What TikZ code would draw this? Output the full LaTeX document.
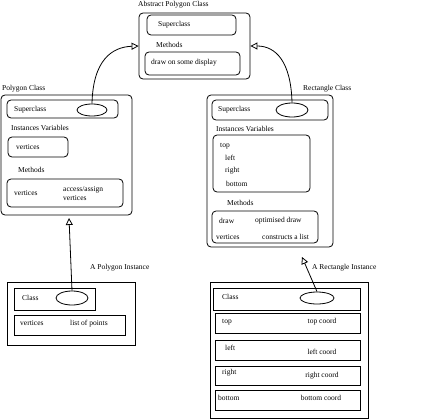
\documentclass[tikz,border=0pt]{standalone}
\usepackage{fontspec}
\setmainfont{Liberation Serif}
\usetikzlibrary{shapes.geometric,arrows.meta}

\begin{document}
\begin{tikzpicture}
    [x=1pt,y=-1pt,
    every node/.style={font=\fontsize{7.5}{8}\selectfont,inner sep=0pt},
    ClassBox/.style={draw,rounded corners=4pt,line width=0.8pt},
    PlainBox/.style={draw,line width=0.8pt},
    ClassOval/.style={draw,ellipse,line width=0.8pt,minimum width=30pt,minimum height=12pt},
    inherit line/.style={line width=0.8pt,-{Triangle[open,length=7pt,width=7pt]}},
    ]
    \useasboundingbox (0,0) rectangle (423,420);

    %Abstract class
    \node[anchor=west] (AbstractLabel) at (138,5) {Abstract Polygon Class};
    \node[ClassBox,minimum width=111pt,minimum height=66pt] (AbstractBox) at (194.5,46) {};
    \node[ClassBox,minimum width=89pt,minimum height=20pt] (AbstractSuper) at (191.5,25) {};
    \node[anchor=west] (AbstractSuperText) at (158,25) {Superclass};
    \node[anchor=west] (AbstractMethLabel) at (156,45) {Methods};
    \node[ClassBox,minimum width=95pt,minimum height=23pt] (AbstractMethods) at (192.5,63.5) {};
    \node[anchor=west] (AbstractDraw) at (151,63) {draw on some display};

    %Polygon class
    \node[anchor=west] (PolyLabel) at (2,89) {Polygon Class};
    \node[ClassBox,minimum width=131pt,minimum height=120pt] (PolyBox) at (66.5,155) {};
    \node[ClassBox,minimum width=111pt,minimum height=18pt] (PolySuper) at (62.5,109) {};
    \node[anchor=west] (PolySuperText) at (14,110) {Superclass};
    \node[ClassOval] (PolyOval) at (92,110) {};
    \node[anchor=west] (PolyVarLabel) at (11,128) {Instances Variables};
    \node[ClassBox,minimum width=60pt,minimum height=20pt] (PolyVars) at (38,147) {};
    \node[anchor=west] (PolyVertices) at (16,147) {vertices};
    \node[anchor=west] (PolyMethLabel) at (18,170) {Methods};
    \node[ClassBox,minimum width=116pt,minimum height=28pt] (PolyMethods) at (65,193) {};
    \node[anchor=west] (PolyMethName) at (14,193) {vertices};
    \node[anchor=west,align=left] (PolyMethBody) at (63,193.5) {access/assign\\[1pt]vertices};

    %Rectangle class
    \node[anchor=west] (RectLabel) at (303,89) {Rectangle Class};
    \node[ClassBox,minimum width=126pt,minimum height=152pt] (RectBox) at (270,171) {};
    \node[ClassBox,minimum width=116pt,minimum height=20pt] (RectSuper) at (270,110) {};
    \node[anchor=west] (RectSuperText) at (218,110) {Superclass};
    \node[ClassOval,minimum width=32pt,minimum height=14pt] (RectOval) at (292,110) {};
    \node[anchor=west] (RectVarLabel) at (216,129) {Instances Variables};
    \node[ClassBox,minimum width=97pt,minimum height=57pt] (RectVars) at (261.5,163.5) {};
    \node[anchor=west] (RectTop) at (220,146) {top};
    \node[anchor=west] (RectLeft) at (225,158) {left};
    \node[anchor=west] (RectRight) at (225,171) {right};
    \node[anchor=west] (RectBottom) at (226,184) {bottom};
    \node[anchor=west] (RectMethLabel) at (227,203) {Methods};
    \node[ClassBox,minimum width=106pt,minimum height=32pt] (RectMethods) at (265,227) {};
    \node[anchor=west] (RectDraw) at (219,221) {draw};
    \node[anchor=west] (RectDrawBody) at (255,221) {optimised draw};
    \node[anchor=west] (RectVertices) at (216,237) {vertices};
    \node[anchor=west] (RectVertBody) at (262,237) {constructs a list};

    %Polygon instance
    \node[anchor=west] (PolyInstLabel) at (90,268) {A Polygon Instance};
    \node[PlainBox,minimum width=128pt,minimum height=63pt] (PolyInst) at (71,313.5) {};
    \node[PlainBox,minimum width=81pt,minimum height=22pt] (PolyInstClass) at (54.5,299) {};
    \node[anchor=west] (PolyInstClassText) at (22,298) {Class};
    \node[ClassOval,minimum width=32pt,minimum height=14pt] (PolyInstOval) at (72,298) {};
    \node[PlainBox,minimum width=111pt,minimum height=20pt] (PolyInstVerts) at (69.5,325) {};
    \node[anchor=west] (PolyInstVertName) at (20,323) {vertices};
    \node[anchor=west] (PolyInstVertVal) at (70,324) {list of points};

    %Rectangle instance
    \node[anchor=west] (RectInstLabel) at (312,268) {A Rectangle Instance};
    \node[PlainBox,minimum width=158pt,minimum height=136pt] (RectInst) at (289,350) {};
    \node[PlainBox,minimum width=147pt,minimum height=22pt] (RectInstClass) at (286.5,299) {};
    \node[anchor=west] (RectInstClassText) at (222,297) {Class};
    \node[ClassOval,minimum width=34pt,minimum height=12pt] (RectInstOval) at (317,298) {};
    \node[PlainBox,minimum width=145pt,minimum height=20pt] (RectInstTop) at (287.5,323) {};
    \node[anchor=west] at (222,322) {top};
    \node at (322,322) {top coord};
    \node[PlainBox,minimum width=145pt,minimum height=20pt] (RectInstLeft) at (287.5,350) {};
    \node[anchor=west] at (225,348) {left};
    \node at (322,352) {left coord};
    \node[PlainBox,minimum width=145pt,minimum height=19pt] (RectInstRight) at (287.5,375.5) {};
    \node[anchor=west] at (222,373) {right};
    \node at (322,376) {right coord};
    \node[PlainBox,minimum width=145pt,minimum height=20pt] (RectInstBottom) at (287.5,400) {};
    \node[anchor=west] at (218,398) {bottom};
    \node at (321,398) {bottom coord};

    %inheritance links
    \coordinate (PolyInstTip) at (69,218);
    \coordinate (RectInstTip) at (302,257);
    \draw[inherit line] (PolyOval.north) .. controls (93,60) and (112,47) .. (AbstractBox.west);
    \draw[inherit line] (RectOval.north) .. controls (291,62) and (276,46) .. (AbstractBox.east);
    \draw[inherit line] (PolyInstOval.north) -- (PolyInstTip);
    \draw[inherit line] (RectInstOval.north) -- (RectInstTip);

\end{tikzpicture}
\end{document}
